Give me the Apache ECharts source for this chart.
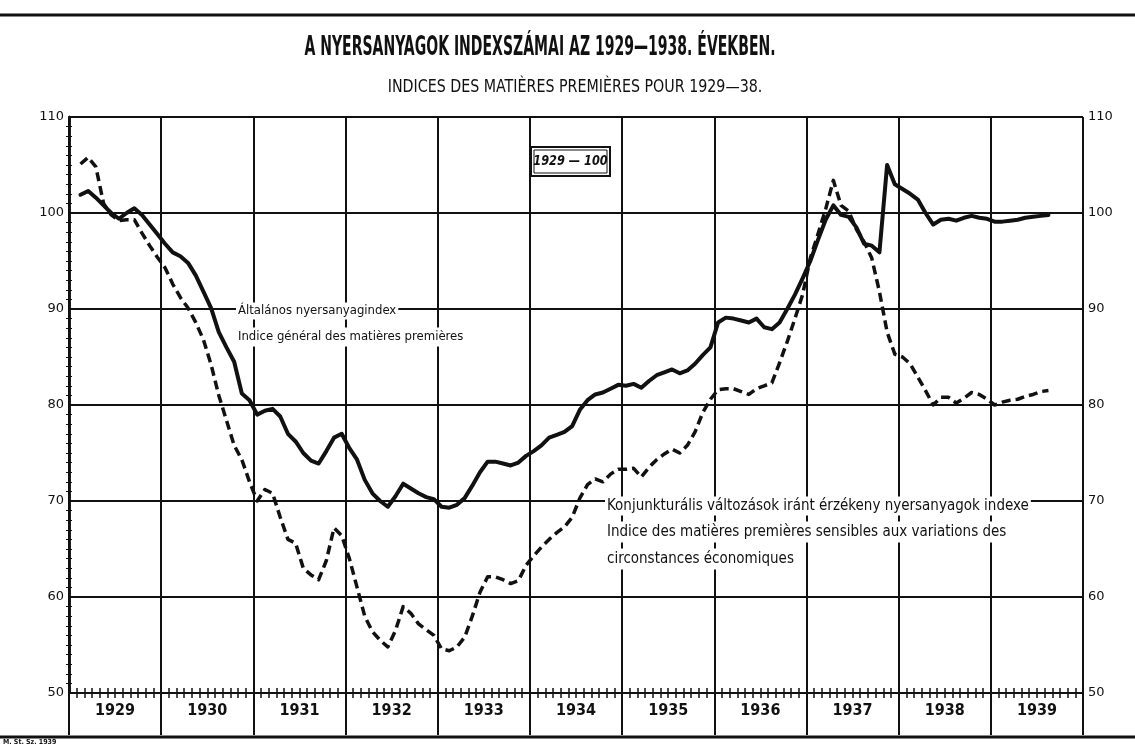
<!DOCTYPE html>
<html>
<head>
<meta charset="utf-8">
<script src="https://cdn.jsdelivr.net/npm/echarts@6/dist/echarts.min.js"></script>
<style>
  html, body { margin: 0; padding: 0; background: #fff; }
  #chart { width: 1135px; height: 746px; }
</style>
</head>
<body>
<div id="chart"></div>
<script>
// ---- data (monthly, first value = Feb 1929) ----
const START_MONTH = 1;            // months after Jan 1929 of first value
const years = ['1929','1930','1931','1932','1933','1934','1935','1936','1937','1938','1939'];
const yTickValues = [50, 60, 70, 80, 90, 100, 110];

// Általános nyersanyagindex (solid)
const general = [
  101.9,102.3,101.6,100.8,100.0,99.4,100.0,100.5,99.8,98.8,97.8,
  96.8,95.9,95.5,94.8,93.5,91.8,90.1,87.6,86.0,84.5,81.2,80.5,
  79.0,79.4,79.6,78.8,77.0,76.2,75.0,74.2,73.9,75.2,76.6,77.0,
  75.5,74.3,72.2,70.8,70.0,69.4,70.5,71.8,71.3,70.8,70.4,70.2,
  69.4,69.3,69.6,70.3,71.6,73.0,74.1,74.1,73.9,73.7,74.0,74.7,
  75.2,75.8,76.6,76.9,77.2,77.8,79.5,80.5,81.1,81.3,81.7,82.1,
  82.0,82.2,81.8,82.5,83.1,83.4,83.7,83.3,83.6,84.3,85.2,86.0,
  88.6,89.1,89.0,88.8,88.6,89.0,88.1,87.9,88.6,90.0,91.5,93.2,
  95.0,97.2,99.3,100.8,99.8,99.6,98.5,96.8,96.6,95.9,105.0,103.0,
  102.5,102.0,101.4,100.0,98.8,99.3,99.4,99.2,99.5,99.7,99.5,99.4,
  99.1,99.1,99.2,99.3,99.5,99.6,99.7,99.8
];

// Konjunkturális változások iránt érzékeny nyersanyagok indexe (dashed)
const sensitive = [
  105.1,105.8,104.8,101.0,99.8,99.2,99.3,99.3,97.9,96.6,95.4,
  94.3,92.6,91.2,90.1,88.6,86.8,84.2,81.0,78.4,75.8,74.3,72.0,
  70.0,71.2,70.8,68.3,66.0,65.6,63.0,62.3,61.8,63.8,67.2,66.4,
  64.0,61.0,58.0,56.4,55.5,54.8,56.5,59.0,58.3,57.2,56.6,56.0,
  54.6,54.4,54.8,55.8,58.0,60.5,62.1,62.1,61.8,61.4,61.7,63.3,
  64.3,65.2,66.0,66.7,67.3,68.3,70.3,71.7,72.3,72.0,72.8,73.3,
  73.3,73.4,72.5,73.5,74.3,74.9,75.4,75.0,75.8,77.2,79.2,80.6,
  81.6,81.7,81.7,81.4,81.1,81.7,82.0,82.3,84.4,86.6,89.0,91.5,
  95.3,97.8,100.4,103.4,100.8,100.2,98.3,97.0,95.3,91.8,87.6,85.3,
  85.0,84.3,82.9,81.5,80.0,80.8,80.8,80.2,80.7,81.3,81.1,80.6,
  80.0,80.3,80.5,80.6,80.9,81.1,81.4,81.5
];

const toPairs = arr => arr.map((v, i) => [START_MONTH + i + 0.5, v]);
const MONTHS = years.length * 12;

const chart = echarts.init(document.getElementById('chart'));
const INK = '#111';
const narrow = "'Liberation Sans Narrow', 'DejaVu Sans Condensed', sans-serif";

const yAxisBase = {
  type: 'value', min: yTickValues[0], max: yTickValues[yTickValues.length - 1], interval: 10,
  axisLine: { show: true, lineStyle: { color: INK, width: 2.5 } },
  axisTick: { show: false },
  minorTick: { show: true, splitNumber: 10, length: 3, lineStyle: { color: INK, width: 1 } },
  axisLabel: { color: INK, fontFamily: 'DejaVu Sans', fontSize: 13, margin: 5 }
};

chart.setOption({
  animation: false,
  backgroundColor: '#fff',
  grid: { left: 69, right: 52, top: 117, bottom: 53, containLabel: false },
  xAxis: [
    {
      type: 'value', min: 0, max: MONTHS, interval: 12, position: 'bottom',
      axisLine: { show: true, lineStyle: { color: INK, width: 2 } },
      axisTick: { show: false, inside: false },
      minorTick: { show: true, splitNumber: 12, length: 5, lineStyle: { color: INK, width: 1.5 } },
      splitLine: { show: true, lineStyle: { color: INK, width: 2 } },
      axisLabel: { show: false }
    },
    {
      type: 'value', min: 0, max: MONTHS, interval: 12, position: 'bottom',
      axisLine: { show: false },
      axisTick: { show: false, inside: true },
      minorTick: { show: true, splitNumber: 12, length: 5, lineStyle: { color: INK, width: 1.5 } },
      splitLine: { show: false },
      axisLabel: { show: false }
    },
    {
      type: 'category', data: years, position: 'bottom', boundaryGap: true,
      axisLine: { show: false },
      axisTick: { show: true, length: 42, interval: 0, lineStyle: { color: INK, width: 2 } },
      splitLine: { show: false },
      axisLabel: { color: INK, fontFamily: narrow, fontWeight: 'bold', fontSize: 16, margin: 10 }
    }
  ],
  yAxis: [
    Object.assign({}, yAxisBase, {
      position: 'left',
      splitLine: { show: true, lineStyle: { color: INK, width: 2 } }
    }),
    Object.assign({}, yAxisBase, {
      position: 'right',
      splitLine: { show: false }
    })
  ],
  series: [
    {
      name: 'Általános nyersanyagindex', type: 'line', xAxisIndex: 0, yAxisIndex: 0,
      data: toPairs(general), showSymbol: false, z: 5,
      lineStyle: { color: INK, width: 4, join: 'round', cap: 'round' }
    },
    {
      name: 'Konjunkturális változások iránt érzékeny nyersanyagok indexe', type: 'line',
      xAxisIndex: 0, yAxisIndex: 0,
      data: toPairs(sensitive), showSymbol: false, z: 5,
      lineStyle: { color: INK, width: 3.5, type: [9, 5], join: 'round' }
    }
  ],
  graphic: [
    // frame lines
    { type: 'line', z: 10, shape: { x1: 0, y1: 15, x2: 1135, y2: 15 }, style: { stroke: INK, lineWidth: 3 } },
    { type: 'line', z: 10, shape: { x1: 0, y1: 737, x2: 1135, y2: 737 }, style: { stroke: INK, lineWidth: 3 } },
    // titles
    { type: 'text', z: 10, x: 540, y: 48, scaleX: 0.6, style: {
        text: 'A NYERSANYAGOK INDEXSZÁMAI AZ 1929—1938. ÉVEKBEN.',
        fill: INK, font: "bold 26px " + narrow, textAlign: 'center', textVerticalAlign: 'middle' } },
    { type: 'text', z: 10, x: 575, y: 87, scaleX: 0.88, style: {
        text: 'INDICES DES MATIÈRES PREMIÈRES POUR 1929—38.',
        fill: INK, font: "18px " + narrow, textAlign: 'center', textVerticalAlign: 'middle' } },
    // 1929 = 100 box
    { type: 'rect', z: 10, shape: { x: 531, y: 147, width: 79, height: 29 }, style: { fill: '#fff', stroke: INK, lineWidth: 2 } },
    { type: 'rect', z: 10, shape: { x: 534, y: 150, width: 73, height: 23 }, style: { fill: '#fff', stroke: INK, lineWidth: 1 } },
    { type: 'text', z: 11, x: 570.5, y: 161.5, scaleX: 0.9, style: {
        text: '1929 — 100', fill: INK, font: "italic bold 14px " + narrow, textAlign: 'center', textVerticalAlign: 'middle' } },
    // series labels
    { type: 'text', z: 3, x: 236, y: 311, style: {
        text: 'Általános nyersanyagindex', fill: INK, font: "13px " + narrow,
        textVerticalAlign: 'middle', backgroundColor: '#fff', padding: [2, 2] } },
    { type: 'text', z: 3, x: 236, y: 337, style: {
        text: 'Indice général des matières premières', fill: INK, font: "13px " + narrow,
        textVerticalAlign: 'middle', backgroundColor: '#fff', padding: [3, 2] } },
    { type: 'text', z: 3, x: 605, y: 506, style: {
        text: 'Konjunkturális változások iránt érzékeny nyersanyagok indexe', fill: INK, font: "15px " + narrow,
        textVerticalAlign: 'middle', backgroundColor: '#fff', padding: [2, 2] } },
    { type: 'text', z: 3, x: 605, y: 532, style: {
        text: 'Indice des matières premières sensibles aux variations des', fill: INK, font: "15px " + narrow,
        textVerticalAlign: 'middle', backgroundColor: '#fff', padding: [3, 2] } },
    { type: 'text', z: 3, x: 605, y: 559, style: {
        text: 'circonstances économiques', fill: INK, font: "15px " + narrow,
        textVerticalAlign: 'middle', backgroundColor: '#fff', padding: [3, 2] } },
    // footer
    { type: 'text', z: 10, x: 3, y: 742, style: {
        text: 'M. St. Sz. 1939', fill: INK, font: "bold 7px " + narrow, textVerticalAlign: 'middle' } }
  ]
});
</script>
</body>
</html>
